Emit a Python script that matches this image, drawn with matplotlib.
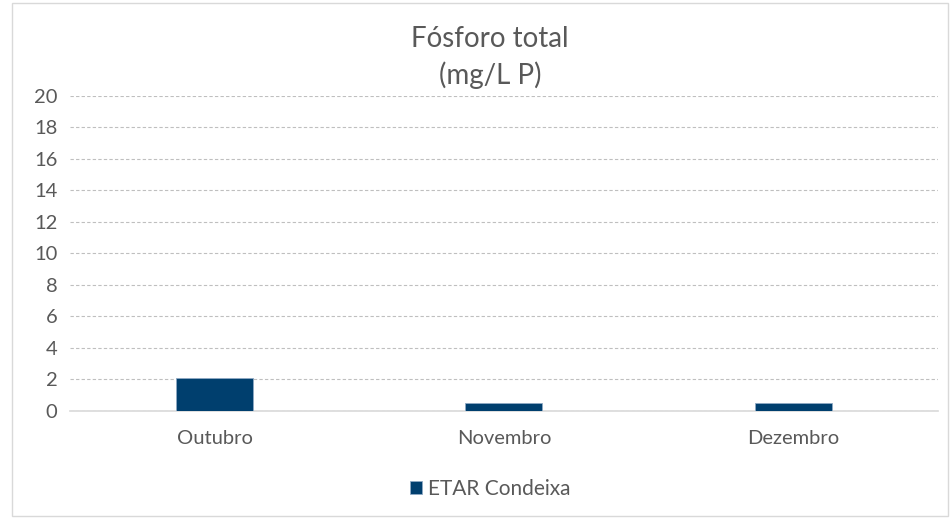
import matplotlib.pyplot as plt
from matplotlib.patches import Rectangle

meses = ['Outubro', 'Novembro', 'Dezembro']
fosforo = [2.1, 0.5, 0.5]
serie = 'ETAR Condeixa'

plt.rcParams['font.family'] = ['Lato', 'DejaVu Sans']

fig = plt.figure(figsize=(9.5, 5.18), dpi=100)
ax = fig.add_axes([0.0737, 0.2066, 0.9133, 0.6081])

x = range(len(meses))
ax.bar(x, fosforo, width=0.266, color='#003F6E', edgecolor='#8FA9C4', linewidth=0.6,
       label=serie, zorder=3)

ax.set_xlim(-0.5, len(meses) - 0.5)
ax.set_ylim(0, 20)
ax.set_yticks(range(0, 21, 2))
ax.set_xticks(list(x))
ax.set_xticklabels(meses)
ax.tick_params(axis='both', length=0, labelsize=14.5, labelcolor='#595959')
ax.tick_params(axis='x', pad=14)
ax.tick_params(axis='y', pad=9)

ax.yaxis.grid(True, linestyle=(0, (3, 2)), color='#BFBFBF', linewidth=0.8, zorder=0)
for s in ['top', 'right', 'left']:
    ax.spines[s].set_visible(False)
ax.spines['bottom'].set_color('#D9D9D9')
ax.spines['bottom'].set_linewidth(1.2)

fig.text(0.516, 0.925, 'Fósforo total', ha='center', va='center', fontsize=20, color='#595959')
fig.text(0.516, 0.854, '(mg/L P)', ha='center', va='center', fontsize=20, color='#595959')

leg = fig.legend(loc='center', bbox_to_anchor=(0.516, 0.056), frameon=False, fontsize=15,
                 handlelength=0.6, handleheight=0.6, handletextpad=0.3)
for t in leg.get_texts():
    t.set_color('#595959')

fig.patches.append(Rectangle((0.0126, 0.004), 0.985, 0.99, transform=fig.transFigure,
                             fill=False, edgecolor='#D9D9D9', linewidth=1))

plt.savefig('out.png', dpi=100)
